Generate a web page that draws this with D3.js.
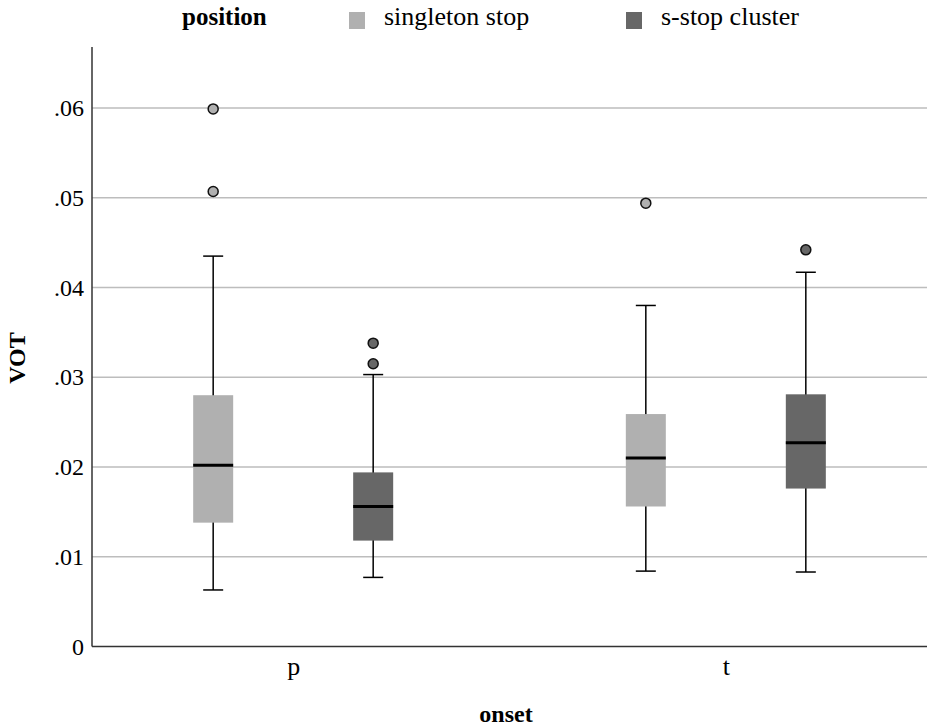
<!DOCTYPE html>
<html><head><meta charset="utf-8">
<script src="https://cdn.jsdelivr.net/npm/d3@7"></script>
<style>body{margin:0;background:#fff}svg{display:block}text{font-family:"Liberation Serif","Times New Roman",serif;fill:#000}</style>
</head><body><svg id="c" width="929" height="727"></svg>
<script>
const categories = ["p", "t"];
const groups = ["singleton stop", "s-stop cluster"];
const yTicks = [0, 0.01, 0.02, 0.03, 0.04, 0.05, 0.06];
const yTickLabels = ["0", ".01", ".02", ".03", ".04", ".05", ".06"];
// per group, per category: [min, q1, median, q3, max]
const singletonStats = [[0.0063, 0.0138, 0.0202, 0.0280, 0.0435], [0.0084, 0.0156, 0.0210, 0.0259, 0.0380]];
const clusterStats   = [[0.0077, 0.0118, 0.0156, 0.0194, 0.0303], [0.0083, 0.0176, 0.0227, 0.0281, 0.0417]];
const singletonOutliers = [[0.0599, 0.0507], [0.0494]];
const clusterOutliers   = [[0.0338, 0.0315], [0.0442]];
const colors = ["#b0b0b0", "#676767"];

(function () {
const svg = d3.select("#c");
const pLeft = 92, pRight = 927, pTop = 47, pBottom = 646.5;
const y = d3.scaleLinear().domain([0, 0.0668]).range([pBottom, pTop]);
const x = d3.scalePoint().domain(categories).range([pLeft, pRight]).padding(0.465);
const xg = d3.scalePoint().domain(groups).range([-80, 80]);
const boxW = 40, capW = 20;

// gridlines
svg.append("g").selectAll("line").data(yTicks.slice(1)).join("line")
  .attr("x1", pLeft).attr("x2", pRight).attr("y1", d => y(d)).attr("y2", d => y(d))
  .attr("stroke", "#bdbdbd").attr("stroke-width", 1.5);

// y axis via d3
const yAxis = d3.axisLeft(y).tickValues(yTicks).tickSize(0).tickPadding(8)
  .tickFormat((d, i) => yTickLabels[i]);
const yg = svg.append("g").attr("transform", `translate(${pLeft},0)`).call(yAxis);
yg.select(".domain").remove();
yg.selectAll("text").attr("font-size", 24).attr("font-family", "Liberation Serif").attr("fill", "#000");

// x axis
const xAxis = d3.axisBottom(x).tickSize(0).tickPadding(14);
const xgEl = svg.append("g").attr("transform", `translate(0,${pBottom})`).call(xAxis);
xgEl.select(".domain").remove();
xgEl.selectAll("text").attr("font-size", 26).attr("font-family", "Liberation Serif").attr("fill", "#000").attr("dy", "0.55em");

// axis lines
svg.append("line").attr("x1", pLeft).attr("x2", pLeft).attr("y1", pTop).attr("y2", pBottom).attr("stroke", "#333").attr("stroke-width", 1.5);
svg.append("line").attr("x1", pLeft).attr("x2", pRight).attr("y1", pBottom).attr("y2", pBottom).attr("stroke", "#333").attr("stroke-width", 1.5);

// boxes
const allStats = [singletonStats, clusterStats];
const allOut = [singletonOutliers, clusterOutliers];
groups.forEach((g, gi) => {
  categories.forEach((c, ci) => {
    const [mn, q1, md, q3, mx] = allStats[gi][ci];
    const cx = x(c) + xg(g);
    const gEl = svg.append("g");
    gEl.append("line").attr("x1", cx).attr("x2", cx).attr("y1", y(mx)).attr("y2", y(mn)).attr("stroke", "#000").attr("stroke-width", 1.5);
    [mn, mx].forEach(v => gEl.append("line").attr("x1", cx - capW/2).attr("x2", cx + capW/2).attr("y1", y(v)).attr("y2", y(v)).attr("stroke", "#000").attr("stroke-width", 1.5));
    gEl.append("rect").attr("x", cx - boxW/2).attr("width", boxW).attr("y", y(q3)).attr("height", y(q1) - y(q3)).attr("fill", colors[gi]);
    gEl.append("line").attr("x1", cx - boxW/2).attr("x2", cx + boxW/2).attr("y1", y(md)).attr("y2", y(md)).attr("stroke", "#000").attr("stroke-width", 3);
    gEl.selectAll("circle").data(allOut[gi][ci]).join("circle")
      .attr("cx", cx).attr("cy", d => y(d)).attr("r", 5)
      .attr("fill", colors[gi]).attr("stroke", "#111").attr("stroke-width", 1.5);
  });
});

// axis titles
svg.append("text").attr("transform", "translate(25,358) rotate(-90)").attr("text-anchor", "middle")
  .attr("font-size", 24).attr("font-weight", "bold").text("VOT");
svg.append("text").attr("x", 506).attr("y", 722).attr("text-anchor", "middle")
  .attr("font-size", 24).attr("font-weight", "bold").text("onset");

// legend
svg.append("text").attr("x", 182).attr("y", 25).attr("font-size", 25).attr("font-weight", "bold").text("position");
const legX = [349, 626];
groups.forEach((g, i) => {
  svg.append("rect").attr("x", legX[i]).attr("y", 12).attr("width", 16).attr("height", 17).attr("fill", colors[i]);
  svg.append("text").attr("x", legX[i] + 35).attr("y", 25).attr("font-size", 26).text(g);
});
})();
</script></body></html>
